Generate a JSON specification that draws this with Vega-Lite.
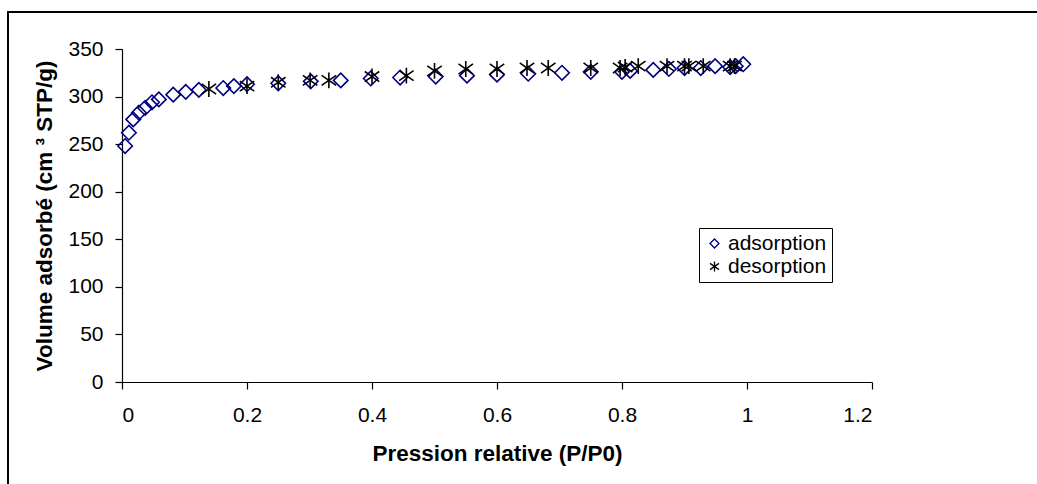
{
  "$schema": "https://vega.github.io/schema/vega-lite/v6.json",
  "width": 750,
  "height": 333,
  "autosize": {"type": "none"},
  "padding": {"left": 122, "top": 49, "right": 165, "bottom": 102},
  "background": "white",
  "config": {
    "view": {"stroke": null},
    "font": "Liberation Sans",
    "axis": {
      "labelFont": "Liberation Sans",
      "labelFontSize": 21,
      "labelColor": "black",
      "titleFont": "Liberation Sans",
      "titleFontWeight": "bold",
      "titleFontSize": 22.5,
      "titleColor": "black",
      "domainColor": "black",
      "domainWidth": 1.2,
      "tickColor": "black",
      "tickWidth": 1.2,
      "tickSize": 7,
      "grid": false
    }
  },
  "datasets": {
    "iso": [
      {"series": "adsorption", "p": 0.005, "v": 248},
      {"series": "adsorption", "p": 0.011, "v": 262},
      {"series": "adsorption", "p": 0.018, "v": 276},
      {"series": "adsorption", "p": 0.027, "v": 283},
      {"series": "adsorption", "p": 0.037, "v": 288},
      {"series": "adsorption", "p": 0.048, "v": 294},
      {"series": "adsorption", "p": 0.059, "v": 297},
      {"series": "adsorption", "p": 0.082, "v": 302},
      {"series": "adsorption", "p": 0.102, "v": 305},
      {"series": "adsorption", "p": 0.123, "v": 307},
      {"series": "adsorption", "p": 0.162, "v": 309},
      {"series": "adsorption", "p": 0.179, "v": 311},
      {"series": "adsorption", "p": 0.2, "v": 313},
      {"series": "adsorption", "p": 0.25, "v": 314},
      {"series": "adsorption", "p": 0.302, "v": 316},
      {"series": "adsorption", "p": 0.35, "v": 317},
      {"series": "adsorption", "p": 0.398, "v": 319},
      {"series": "adsorption", "p": 0.445, "v": 320},
      {"series": "adsorption", "p": 0.502, "v": 321},
      {"series": "adsorption", "p": 0.552, "v": 322},
      {"series": "adsorption", "p": 0.6, "v": 323},
      {"series": "adsorption", "p": 0.65, "v": 324},
      {"series": "adsorption", "p": 0.704, "v": 325},
      {"series": "adsorption", "p": 0.75, "v": 326},
      {"series": "adsorption", "p": 0.8, "v": 326},
      {"series": "adsorption", "p": 0.813, "v": 327},
      {"series": "adsorption", "p": 0.85, "v": 328},
      {"series": "adsorption", "p": 0.875, "v": 329},
      {"series": "adsorption", "p": 0.9, "v": 330},
      {"series": "adsorption", "p": 0.926, "v": 330},
      {"series": "adsorption", "p": 0.949, "v": 332},
      {"series": "adsorption", "p": 0.973, "v": 331},
      {"series": "adsorption", "p": 0.982, "v": 332},
      {"series": "adsorption", "p": 0.994, "v": 334},
      {"series": "desorption", "p": 0.139, "v": 308},
      {"series": "desorption", "p": 0.2, "v": 311},
      {"series": "desorption", "p": 0.25, "v": 315},
      {"series": "desorption", "p": 0.301, "v": 317},
      {"series": "desorption", "p": 0.331, "v": 317},
      {"series": "desorption", "p": 0.4, "v": 321},
      {"series": "desorption", "p": 0.455, "v": 322},
      {"series": "desorption", "p": 0.5, "v": 327},
      {"series": "desorption", "p": 0.55, "v": 329},
      {"series": "desorption", "p": 0.6, "v": 329},
      {"series": "desorption", "p": 0.648, "v": 330},
      {"series": "desorption", "p": 0.682, "v": 330},
      {"series": "desorption", "p": 0.75, "v": 330},
      {"series": "desorption", "p": 0.797, "v": 330},
      {"series": "desorption", "p": 0.805, "v": 331},
      {"series": "desorption", "p": 0.826, "v": 332},
      {"series": "desorption", "p": 0.872, "v": 332},
      {"series": "desorption", "p": 0.9, "v": 332},
      {"series": "desorption", "p": 0.907, "v": 332},
      {"series": "desorption", "p": 0.93, "v": 332},
      {"series": "desorption", "p": 0.973, "v": 332},
      {"series": "desorption", "p": 0.98, "v": 332}
    ],
    "frame": [{"k": "border"}]
  },
  "layer": [
    {
      "data": {"name": "frame"},
      "mark": {"type": "rect", "fill": null, "stroke": "black", "strokeWidth": 2, "clip": false},
      "encoding": {
        "x": {"datum": -0.1824, "type": "quantitative", "scale": {"domain": [0, 1.2]}},
        "x2": {"datum": 2.2},
        "y": {"datum": 389, "type": "quantitative", "scale": {"domain": [0, 350]}},
        "y2": {"datum": -250}
      }
    },
    {
      "data": {"name": "iso"},
      "mark": {"type": "point", "filled": false, "strokeWidth": 1.6, "opacity": 1},
      "encoding": {
        "x": {
          "field": "p",
          "type": "quantitative",
          "scale": {"domain": [0, 1.2], "nice": false, "zero": true},
          "axis": {
            "title": "Pression relative (P/P0)",
            "values": [0, 0.2, 0.4, 0.6, 0.8, 1, 1.2],
            "format": "~g",
            "labelPadding": 15,
            "titlePadding": 17
          }
        },
        "y": {
          "field": "v",
          "type": "quantitative",
          "scale": {"domain": [0, 350], "nice": false},
          "axis": {
            "title": "Volume adsorbé (cm ³ STP/g)",
            "values": [0, 50, 100, 150, 200, 250, 300, 350],
            "labelPadding": 12,
            "titlePadding": 11
          }
        },
        "shape": {
          "field": "series",
          "type": "nominal",
          "scale": {
            "domain": ["adsorption", "desorption"],
            "range": ["diamond", "M0,-1.1L0,1.1M-1,-0.7L1,0.7M-1,0.7L1,-0.7"]
          },
          "legend": {
            "title": null,
            "orient": "none",
            "legendX": 577,
            "legendY": 179,
            "strokeColor": "black",
            "fillColor": "white",
            "padding": 5,
            "labelFont": "Liberation Sans",
            "labelFontSize": 21,
            "labelColor": "black",
            "labelOffset": 3,
            "symbolSize": 80,
            "symbolStrokeWidth": 1.3,
            "rowPadding": 1
          }
        },
        "color": {
          "field": "series",
          "type": "nominal",
          "scale": {"domain": ["adsorption", "desorption"], "range": ["#000080", "#000000"]}
        },
        "size": {"value": 210}
      }
    }
  ]
}
